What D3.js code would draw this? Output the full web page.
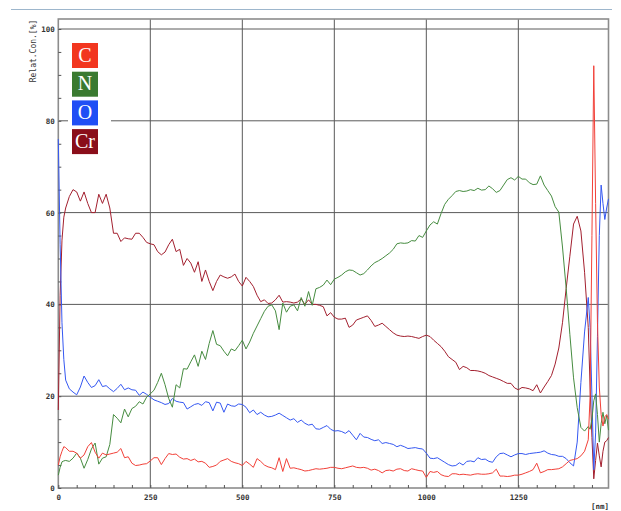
<!DOCTYPE html>
<html>
<head>
<meta charset="utf-8">
<script src="https://cdn.jsdelivr.net/npm/d3@7/dist/d3.min.js"></script>
<style>
  html, body { margin: 0; padding: 0; background: #fff; }
  svg { display: block; }
</style>
</head>
<body>
<svg id="chart" width="621" height="511"></svg>
<script>
// Sputter depth of each sample [nm]: finer steps at the surface and at the interface
const depthHead = [0, 5, 10, 15];
const depthBody = d3.range(20, 1440, 10);
const depthTail = d3.range(1440, 1500, 5);
const depthNm = depthHead.concat(depthBody, depthTail);

// Element legend
const elements = ["C", "N", "O", "Cr"];

// Relative concentration [%] per element, one value per depth sample
const carbon = [
  5, 6.8, 8, 9,
  8.8, 8, 8, 7.6, 6.5, 7.2, 9, 9.9, 7.8, 6.5,
  7.6, 7.2, 7.4, 7.6, 7.8, 8.6, 6.6, 6.8, 5.4, 4.9,
  5, 5.2, 5.3, 5.9, 6.6, 6.6, 5.1, 6.4, 7.5, 7.3,
  7.4, 6.7, 6.3, 6.4, 6, 6.3, 5.7, 5.8, 5.4, 4.5,
  4.7, 5, 5.8, 6.1, 6.4, 5.8, 5.5, 5.3, 4.9, 5.8,
  5.2, 4.5, 6.4, 5.8, 5, 4.6, 4.4, 4, 6.6, 3.6,
  6.4, 4.3, 4.4, 4.2, 4, 3.7, 3.8, 4, 4.2, 4.1,
  4.2, 4.3, 4.5, 4.5, 4.3, 4.2, 4.4, 4.6, 4.8, 4.5,
  4.4, 4.5, 4.3, 3.9, 4.1, 3.8, 3.3, 3.8, 3.9, 3.7,
  4.1, 4.2, 3.8, 3.7, 4.2, 4, 3.8, 3.7, 2.3, 3.6,
  3.4, 3.6, 2.9, 2.6, 2.5, 3.1, 3.1, 2.9, 3, 2.9,
  2.8, 3, 3.1, 3, 3, 3.1, 3.3, 4.1, 2.6, 2.6,
  2.5, 2.6, 2.8, 2.8, 3, 3.3, 3.6, 4, 5.4, 3.3,
  3.6, 4, 4, 4.1, 4.2, 4.6, 5.3, 6, 6.2, 6.4,
  7, 8,
  10.5, 20, 55, 92, 62, 36, 22, 16, 13.5, 15.5, 16, 15
];

const nitrogen = [
  2.8, 4.5, 5.7, 5.9,
  6, 5.8, 6.5, 7.6, 6.5, 4.3, 6.2, 8.5, 9.8, 5.2,
  6.5, 6.8, 9.5, 16, 15.2, 14.2, 17.2, 15.5, 17.3, 17.8,
  18.8, 18.3, 19.8, 20.5, 21.3, 23, 25, 22.5, 19.5, 17.6,
  22.5, 21.8, 26, 25.9, 27.5, 29, 26.5, 29.8, 28, 31.5,
  34.3, 31.3, 31, 29.8, 28.8, 30.3, 29.9, 31, 32.2, 30.3,
  31.8, 33.7, 35.3, 36.9, 38.5, 39.6, 39.9, 38.6, 34.5, 40.3,
  38.3, 39.6, 39.9, 38.6, 41.5, 39.6, 42.8, 39.8, 43.4, 43.7,
  44.2, 45.3, 44.3, 45.5, 45.9, 46.4, 47.1, 47.5, 47.4, 46.9,
  46.4, 46.7, 47.5, 48.4, 49.1, 49.5, 50, 50.6, 51.2, 52,
  53.2, 53.4, 53.3, 53.4, 53.9, 53.8, 55, 54.6, 56, 57.3,
  58, 57.5, 59.8, 61.8, 62.9, 63.7, 64.6, 64.8, 64.6, 64.7,
  65, 64.8, 65.3, 64.9, 65, 65.8, 65.2, 64.4, 64.8, 66,
  67.2, 67.6, 67.1, 67.9, 67.3, 67.3, 66.5, 66.1, 66.2, 68,
  66, 64.8, 63.6, 61.3, 60.1, 52.5, 43.5, 33.5, 24, 17.5,
  13.2, 12.4,
  13.4, 12.8, 15, 19, 20.5, 16, 10, 14, 16.5, 14, 15.8, 12.6
];

const oxygen = [
  76, 53, 36, 28,
  23.5, 21.6, 20.9, 20.3, 22, 24.4, 23, 21.9, 22.3, 23.6,
  22.1, 22.3, 21.6, 21, 21.7, 22.6, 21.4, 21.8, 21.4, 21.3,
  20.2, 20.9, 20.4, 19.8, 19.2, 18.9, 18.6, 18.2, 18.4, 19.5,
  18.9, 18.7, 18.6, 17.2, 17.7, 18.2, 18.4, 18, 18.8, 18.6,
  16.8, 18.7, 18.5, 16.5, 18.3, 17.9, 17.8, 18.3, 18.2, 17.6,
  16.4, 17, 16, 16.5, 15.9, 15.5, 15.6, 15.9, 16.3, 15.8,
  15.3, 14.8, 15.1, 14.3, 14.8, 14.1, 13.7, 13.9, 12.9, 12.8,
  13.2, 13.6, 12.8, 12.4, 12.5, 12.3, 11.9, 12.5, 11.5, 10.5,
  11.9, 11.1, 11, 10.6, 10.3, 10.5, 9.7, 9.9, 9.7, 9.5,
  9, 9.3, 9, 8.6, 8.7, 8.8, 8.6, 8.5, 7.6, 6.5,
  6.4, 6.6, 6.1, 5.6, 5.1, 4.8, 4.9, 5.5, 5, 5.8,
  5.9, 5.7, 6.6, 6.2, 6.3, 5.8, 5.6, 6.8, 7.5, 7.6,
  7.2, 6.8, 7.2, 7.5, 7.5, 7.3, 7.5, 7.6, 7.7, 7.8,
  8.1, 7.6, 7.3, 7.2, 6.9, 6.9, 6.4, 5.5, 4.8, 10,
  23, 34,
  41.5, 35, 20, 4, 12, 33, 55, 66, 62, 58.5, 61, 63
];

const chromium = [
  17, 42, 54, 59,
  61, 63.5, 65, 64.5, 62.5, 64.5, 62, 60, 60, 64,
  62, 64, 61, 55.5, 55.5, 53.7, 54.5, 54.3, 54.2, 55.5,
  55.5, 54.6, 53.5, 53.2, 53, 51.5, 50.8, 51.4, 53, 54.2,
  51.5, 52, 48.5, 50, 49, 47, 49.3, 45, 47.5, 45,
  43, 45, 46.4, 46, 45.7, 46, 46.6, 45, 44, 45.9,
  45, 43.9, 42, 40.6, 41, 40.2, 40.3, 41, 42, 40.5,
  40.6, 40.5, 40.3, 40.5, 41.2, 40, 41, 40, 40, 39.8,
  39.5, 37.5, 38.2, 37.2, 36.8, 36.8, 37, 35, 35.5, 36.6,
  36.9, 37.2, 37.5, 36.5, 35.2, 35.5, 35.9, 35.2, 34.5, 33.8,
  33.3, 33.1, 33, 33.1, 33, 32.8, 32.6, 33, 33.3, 33,
  32.2, 31.5, 30.8, 29.8, 28.6, 28, 27.4, 25.8, 26.5, 26.2,
  25.6, 25.6, 25.5, 25.3, 25, 24.5, 24.2, 23.9, 23.6, 23.2,
  22.8, 22.8, 21.8, 21.4, 21.9, 21.8, 21.6, 21.2, 22.5, 20.7,
  22, 23.2, 24.5, 27, 30.5, 36, 43.5, 50.5, 57.5, 59.2,
  56, 47,
  35, 22, 11, 2, 6, 9.8, 7, 4.6, 8, 10, 10.3, 11
];

// Axis ticks
const xMajorTicks = [0, 250, 500, 750, 1000, 1250];
const xMinorTicks = d3.range(0, 1495, 50);
const yMajorTicks = [0, 20, 40, 60, 80, 100];
const yMinorTicks = d3.range(0, 101, 5);

const series = [
  { name: "Cr", values: chromium, line: "#a3202f" },
  { name: "O",  values: oxygen,   line: "#3558f2" },
  { name: "N",  values: nitrogen, line: "#468c40" },
  { name: "C",  values: carbon,   line: "#f24038" }
];
const boxColor = { C: "#f2361f", N: "#3a7a30", O: "#1f4ef5", Cr: "#8a0e1a" };

const svg = d3.select("#chart");
const plot = { left: 58.3, right: 608.5, top: 19, bottom: 488 };

const x = d3.scaleLinear().domain([0, 1495]).range([plot.left, plot.right]);
const y = d3.scaleLinear().domain([0, 100]).range([488, 29]);

const monoFont = "'DejaVu Sans Mono', 'Liberation Mono', monospace";

// Rule across the top of the page
svg.append("line")
  .attr("x1", 11).attr("x2", 612)
  .attr("y1", 9.5).attr("y2", 9.5)
  .attr("stroke", "#9db6cc").attr("stroke-width", 1);

// Grid
const grid = svg.append("g").attr("class", "grid");
grid.selectAll("line.v")
  .data(xMajorTicks.filter(d => d > 0))
  .join("line")
  .attr("class", "v")
  .attr("x1", d => x(d)).attr("x2", d => x(d))
  .attr("y1", plot.top).attr("y2", plot.bottom)
  .attr("stroke", "#5a5a5a").attr("stroke-width", 1);
grid.selectAll("line.h")
  .data(yMajorTicks.filter(d => d > 0))
  .join("line")
  .attr("class", "h")
  .attr("x1", plot.left).attr("x2", plot.right)
  .attr("y1", d => y(d)).attr("y2", d => y(d))
  .attr("stroke", "#5a5a5a").attr("stroke-width", 1);

// Frame
svg.append("rect")
  .attr("x", plot.left).attr("y", plot.top)
  .attr("width", plot.right - plot.left)
  .attr("height", plot.bottom - plot.top)
  .attr("fill", "none")
  .attr("stroke", "#8c8c8c").attr("stroke-width", 1.6);

// Minor ticks, pointing into the plot
const yMinorAxis = d3.axisRight(y).tickValues(yMinorTicks).tickSize(3).tickFormat("");
svg.append("g").attr("transform", `translate(${plot.left},0)`).call(yMinorAxis)
  .call(g => g.select(".domain").remove())
  .call(g => g.selectAll("line").attr("stroke", "#555"));
const xMinorAxis = d3.axisTop(x).tickValues(xMinorTicks).tickSize(3).tickFormat("");
svg.append("g").attr("transform", `translate(0,${plot.bottom})`).call(xMinorAxis)
  .call(g => g.select(".domain").remove())
  .call(g => g.selectAll("line").attr("stroke", "#555"));

// Tick labels
const yAxis = d3.axisLeft(y).tickValues(yMajorTicks).tickSize(0).tickPadding(3.5)
  .tickFormat(d3.format("d"));
svg.append("g").attr("transform", `translate(${plot.left},0)`).call(yAxis)
  .call(g => g.select(".domain").remove())
  .call(g => g.selectAll("text")
    .attr("font-family", monoFont).attr("font-size", 7.5)
    .attr("font-weight", "bold").attr("fill", "#333"));
const xAxis = d3.axisBottom(x).tickValues(xMajorTicks).tickSize(0)
  .tickFormat(d3.format("d"));
svg.append("g").attr("transform", `translate(0,${plot.bottom})`).call(xAxis)
  .call(g => g.select(".domain").remove())
  .call(g => g.selectAll("text")
    .attr("y", 9).attr("dy", null).attr("dominant-baseline", "central")
    .attr("font-family", monoFont).attr("font-size", 7.5)
    .attr("font-weight", "bold").attr("fill", "#333"));

// Axis titles
svg.append("text")
  .attr("transform", "translate(35.5,51) rotate(-90)")
  .attr("text-anchor", "middle")
  .attr("font-family", monoFont).attr("font-size", 8)
  .attr("fill", "#333")
  .text("Relat.Con.[%]");
svg.append("text")
  .attr("x", 591).attr("y", 508.5)
  .attr("font-family", monoFont).attr("font-size", 7.5)
  .attr("font-weight", "bold").attr("fill", "#333")
  .text("[nm]");

// Profiles
const line = d3.line()
  .x((d, i) => x(depthNm[i]))
  .y(d => y(d));
svg.append("g").attr("class", "profiles")
  .selectAll("path")
  .data(series)
  .join("path")
  .attr("d", s => line(s.values))
  .attr("fill", "none")
  .attr("stroke", s => s.line)
  .attr("stroke-width", 1)
  .attr("stroke-linejoin", "round");

// Legend
const legend = svg.append("g").attr("class", "legend");
legend.append("rect")
  .attr("x", 68).attr("y", 38).attr("width", 43).attr("height", 121)
  .attr("fill", "#fff");
const item = legend.selectAll("g.item")
  .data(elements)
  .join("g")
  .attr("class", "item")
  .attr("transform", (d, i) => `translate(72,${43 + i * 28.7})`);
item.append("rect")
  .attr("width", 26).attr("height", 25)
  .attr("fill", d => boxColor[d]);
item.append("text")
  .attr("x", 13).attr("y", 18.8)
  .attr("text-anchor", "middle")
  .attr("font-family", "'Liberation Serif', 'DejaVu Serif', serif")
  .attr("font-size", 20)
  .attr("fill", "#fff")
  .text(d => d);
</script>
</body>
</html>
